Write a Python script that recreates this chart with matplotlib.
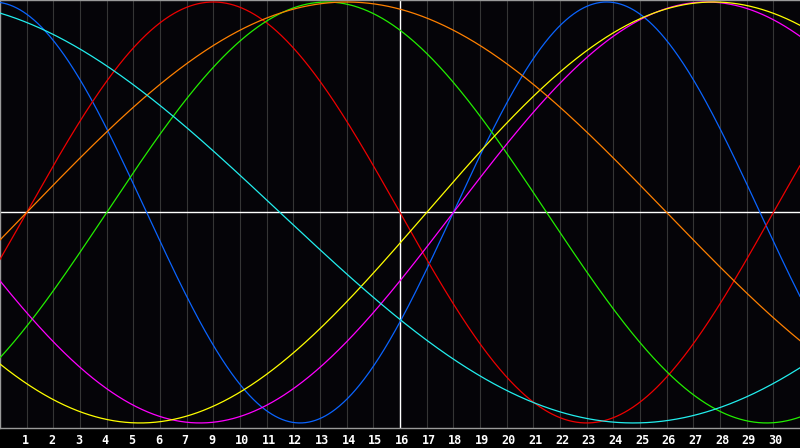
import numpy as np
import matplotlib.pyplot as plt
from matplotlib.transforms import ScaledTranslation, blended_transform_factory

# Biorhythm cycles (period in days)
cycle_names = ['physical', 'emotional', 'intellectual', 'intuitive', 'aesthetic', 'awareness', 'spiritual']
periods = [23, 28, 33, 38, 43, 48, 53]
colors = ['#0a64ff', '#ee0000', '#22ee00', '#ff00ff', '#ffff00', '#ff8000', '#22eeee']

# days since birth at the left edge of the chart
start_day = 34943
n_days = 30
today = 15

# day labels under the grid lines (the 8th is missing in the original)
day_labels = ['1', '2', '3', '4', '5', '6', '7', '9', '10', '11', '12', '13', '14', '15',
              '16', '17', '18', '19', '20', '21', '22', '23', '24', '25', '26', '27',
              '28', '29', '30']

fig = plt.figure(figsize=(8, 4.48), dpi=100)
fig.patch.set_facecolor('#000000')
ax = fig.add_axes([0, 20 / 448, 1, 428 / 448])
ax.set_facecolor('#050408')

# grid
for k in range(1, n_days):
    ax.axvline(k, color='#353535', lw=0.8, zorder=1)
ax.axhline(0, color='white', lw=1.0, zorder=2)
ax.axvline(today, color='white', lw=1.0, zorder=2)

# cycles
t = np.linspace(0, n_days, 1200)
for name, p, c in zip(cycle_names, periods, colors):
    ax.plot(t, np.sin(2 * np.pi * (start_day + t) / p), color=c, lw=0.9, zorder=3, label=name)

ax.set_xlim(0, n_days)
ax.set_ylim(-1.024, 1.0095)
ax.set_xticks([])
ax.set_yticks([])

# day labels, left edge a few pixels before each grid line
trans = blended_transform_factory(ax.transData, ax.transAxes) + \
    ScaledTranslation(-5 / 100, -6 / 100, fig.dpi_scale_trans)
for k, lab in enumerate(day_labels, start=1):
    ax.text(k, 0, lab, transform=trans, ha='left', va='top', color='white',
            fontsize=8.5, fontweight='bold', family='DejaVu Sans Mono', clip_on=False)

for s in ['left', 'top', 'bottom']:
    ax.spines[s].set_color('#9a9a9a')
    ax.spines[s].set_linewidth(1.0)
ax.spines['right'].set_visible(False)

plt.savefig('out.png', dpi=100, facecolor=fig.get_facecolor())
plt.close()
